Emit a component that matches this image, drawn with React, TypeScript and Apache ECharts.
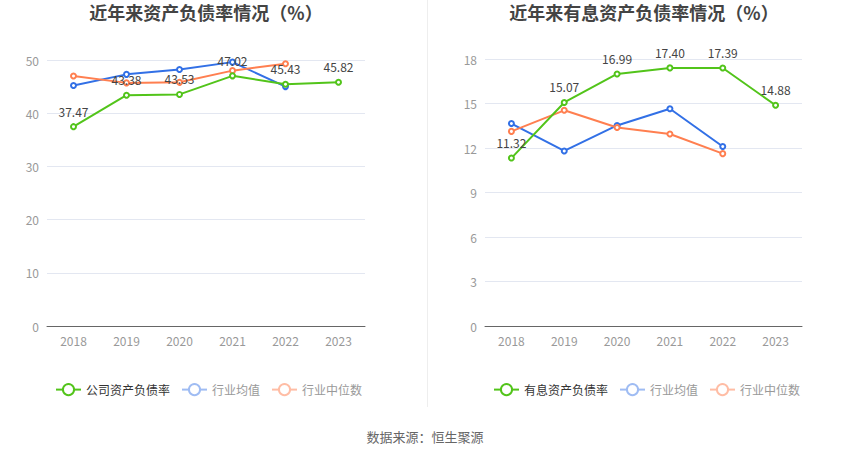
import React, { useEffect, useRef } from "react";
import * as echarts from "echarts";

const years = ["2018", "2019", "2020", "2021", "2022", "2023"];
const companyDebt = [37.47, 43.38, 43.53, 47.02, 45.43, 45.82];
const industryAvgDebt = [45.2, 47.3, 48.2, 49.6, 45.0];
const industryMedDebt = [47.0, 45.7, 45.8, 48.0, 49.3];
const companyInterest = [11.32, 15.07, 16.99, 17.4, 17.39, 14.88];
const industryAvgInterest = [13.65, 11.8, 13.52, 14.65, 12.1];
const industryMedInterest = [13.12, 14.54, 13.38, 12.94, 11.62];

const leftTitle = "近年来资产负债率情况（%）";
const rightTitle = "近年来有息资产负债率情况（%）";
const leftNames = ["公司资产负债率", "行业均值", "行业中位数"];
const rightNames = ["有息资产负债率", "行业均值", "行业中位数"];
const sourceText = "数据来源：恒生聚源";

const FONT = "'Noto Sans CJK SC', 'Noto Sans', sans-serif";
const GREEN = "#52c41a";
const BLUE = "#3270e6";
const ORANGE = "#ff7f50";
const BLUE_L = "#9fbcf3";
const ORANGE_L = "#ffbda5";

export default function App() {
  const ref = useRef<HTMLDivElement>(null);
  useEffect(() => {
    document.body.style.margin = "0";
    const chart = echarts.init(ref.current!, undefined, { renderer: "svg" });

    const lineSeries = (
      name: string,
      data: number[],
      color: string,
      idx: number,
      label: boolean
    ) => ({
      type: "line",
      name,
      data,
      xAxisIndex: idx,
      yAxisIndex: idx,
      symbol: "emptyCircle",
      symbolSize: 5,
      lineStyle: { width: 2, color },
      itemStyle: { color },
      z: label ? 3 : 2,
      label: label
        ? {
            show: true,
            position: "top",
            distance: 6,
            color: "#444",
            fontSize: 12,
            fontFamily: FONT,
            formatter: (p: any) => p.value.toFixed(2),
          }
        : { show: false },
    });

    const legendData = (names: string[]) => [
      { name: names[0], textStyle: { color: "#333" }, itemStyle: { color: GREEN, borderColor: GREEN, borderWidth: 2 }, lineStyle: { color: GREEN, width: 2 } },
      { name: names[1], textStyle: { color: "#999" }, itemStyle: { color: BLUE_L, borderColor: BLUE_L, borderWidth: 2 }, lineStyle: { color: BLUE_L, width: 2 } },
      { name: names[2], textStyle: { color: "#999" }, itemStyle: { color: ORANGE_L, borderColor: ORANGE_L, borderWidth: 2 }, lineStyle: { color: ORANGE_L, width: 2 } },
    ];

    const xAxis = (gridIndex: number) => ({
      type: "category",
      gridIndex,
      data: years,
      boundaryGap: true,
      axisLine: { lineStyle: { color: "#666", width: 1 } },
      axisTick: { alignWithLabel: true, length: 4, lineStyle: { color: "#666" } },
      axisLabel: { color: "#999", fontSize: 12, fontFamily: FONT, margin: 8 },
    });

    const yAxis = (gridIndex: number, max: number, interval: number) => ({
      type: "value",
      gridIndex,
      min: 0,
      max,
      interval,
      axisLine: { show: false },
      axisTick: { show: false },
      axisLabel: { color: "#999", fontSize: 12, fontFamily: FONT, margin: 8 },
      splitLine: { lineStyle: { color: "#e3e7f1" } },
    });

    chart.setOption({
      animation: false,
      backgroundColor: "#fff",
      textStyle: { fontFamily: FONT },
      title: [
        { text: leftTitle, left: 201, top: -2, textAlign: "center", textStyle: { fontSize: 18, fontWeight: "bold", color: "#444", fontFamily: FONT } },
        { text: rightTitle, left: 639, top: -2, textAlign: "center", textStyle: { fontSize: 18, fontWeight: "bold", color: "#444", fontFamily: FONT } },
      ],
      legend: [
        {
          left: 50, top: 378, itemWidth: 25, itemHeight: 14, itemGap: 11,
          textStyle: { fontSize: 12, fontFamily: FONT },
          data: legendData(leftNames),
          selectedMode: false,
        },
        {
          left: 488, top: 378, itemWidth: 25, itemHeight: 14, itemGap: 11,
          textStyle: { fontSize: 12, fontFamily: FONT },
          data: legendData(rightNames),
          selectedMode: false,
        },
      ],
      grid: [
        { left: 47, right: 485, top: 60, bottom: 133, containLabel: false },
        { left: 485, right: 48, top: 59, bottom: 133, containLabel: false },
      ],
      xAxis: [xAxis(0), xAxis(1)],
      yAxis: [yAxis(0, 50, 10), yAxis(1, 18, 3)],
      series: [
        lineSeries(leftNames[1], industryAvgDebt, BLUE, 0, false),
        lineSeries(leftNames[2], industryMedDebt, ORANGE, 0, false),
        lineSeries(leftNames[0], companyDebt, GREEN, 0, true),
        lineSeries(rightNames[1], industryAvgInterest, BLUE, 1, false),
        lineSeries(rightNames[2], industryMedInterest, ORANGE, 1, false),
        lineSeries(rightNames[0], companyInterest, GREEN, 1, true),
      ],
      graphic: [
        { type: "line", shape: { x1: 427.5, y1: 0, x2: 427.5, y2: 407 }, style: { stroke: "#eeeeee", lineWidth: 1 } },
        { type: "text", left: "center", top: 430, style: { text: sourceText, fill: "#666", fontSize: 13, fontFamily: FONT } },
      ],
    });
    return () => chart.dispose();
  }, []);
  return <div ref={ref} style={{ width: 850, height: 459 }} />;
}
